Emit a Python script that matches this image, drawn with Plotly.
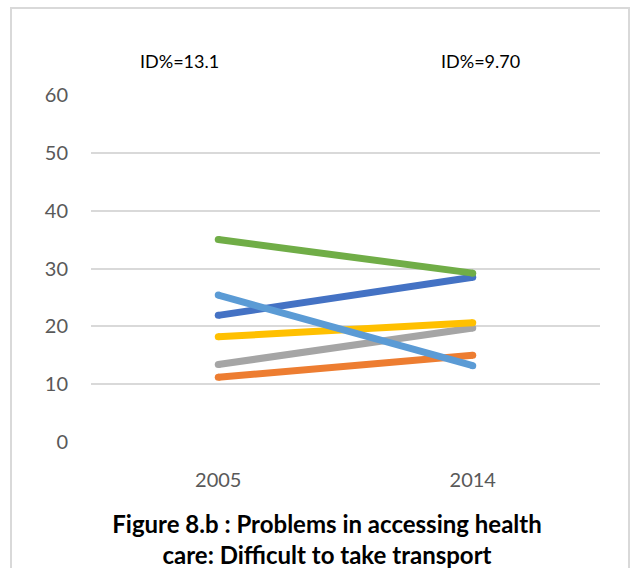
import plotly.graph_objects as go

years = ["2005", "2014"]
series_names = ["S1", "S2", "S3", "S4", "S5", "S6"]
series_values = [
    [21.9, 28.5],   # dark blue
    [11.2, 15.0],   # orange
    [13.4, 19.7],   # gray
    [18.2, 20.6],   # yellow
    [25.4, 13.2],   # light blue
    [35.0, 29.2],   # green
]
series_colors = ["#4472C4", "#ED7D31", "#A5A5A5", "#FFC000", "#5B9BD5", "#70AD47"]
y_ticks = [0, 10, 20, 30, 40, 50, 60]
id_labels = ["ID%=13.1", "ID%=9.70"]
title_text = "Figure 8.b : Problems in accessing health<br>care: Difficult to take transport"

W, H = 633, 568
ML, MR, MT, MB = 91, 33, 95, 126
PW, PH = W - ML - MR, H - MT - MB

def px_x(p):
    return (p - ML) / PW

def px_y(p):
    return (H - MB - p) / PH

fig = go.Figure()
for name, vals, col in zip(series_names, series_values, series_colors):
    fig.add_trace(go.Scatter(
        x=years, y=vals, mode="lines+markers", name=name,
        line=dict(color=col, width=7),
        marker=dict(color=col, size=7, line=dict(width=0)),
        hoverinfo="skip",
    ))

font_family = "Lato, 'Open Sans', sans-serif"

fig.update_layout(
    width=W, height=H,
    margin=dict(l=ML, r=MR, t=MT, b=MB),
    paper_bgcolor="white", plot_bgcolor="white",
    showlegend=False,
    font=dict(family=font_family),
    title=dict(
        text="<b>" + title_text + "</b>",
        font=dict(family=font_family, size=24, color="#000000"),
        x=327 / W, xanchor="center", xref="container",
        y=(H - 533) / H, yanchor="top", yref="container",
    ),
    xaxis=dict(
        type="category", range=[-0.5, 1.5],
        showgrid=False, zeroline=False, showline=False,
        tickfont=dict(family=font_family, size=20, color="#595959"),
        ticks="", ticklabelstandoff=24,
    ),
    yaxis=dict(
        range=[0, 60], tickvals=y_ticks,
        showgrid=True, gridcolor="#d9d9d9", gridwidth=1.5,
        zeroline=False, showline=False,
        tickfont=dict(family=font_family, size=20, color="#595959"),
        ticks="", ticklabelstandoff=22,
    ),
)

for lbl, xp in zip(id_labels, [179, 480]):
    fig.add_annotation(
        text=lbl, xref="paper", yref="paper",
        x=px_x(xp), y=px_y(61), xanchor="center", yanchor="middle",
        showarrow=False, font=dict(family=font_family, size=18, color="#000000"),
    )

# outer chart border
fig.add_shape(
    type="rect", xref="paper", yref="paper",
    x0=px_x(11), x1=px_x(629), y0=px_y(575), y1=px_y(8),
    line=dict(color="#d9d9d9", width=2), fillcolor="rgba(0,0,0,0)", layer="below",
)

fig.write_html("out.html")
